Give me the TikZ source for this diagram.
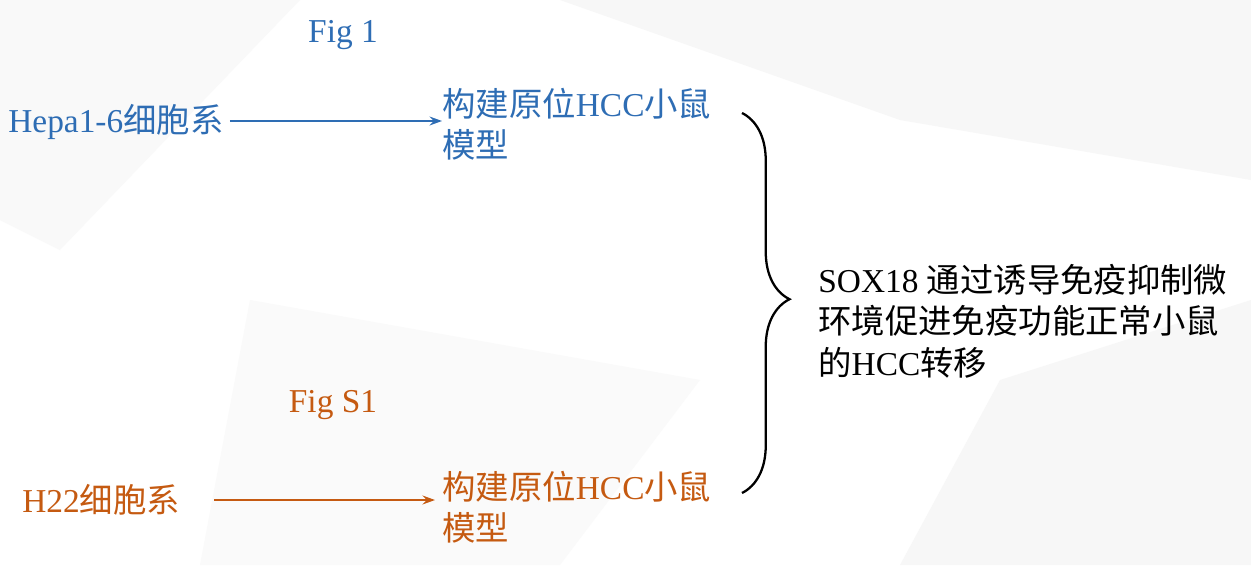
\documentclass[tikz,border=0pt]{standalone}
\usepackage{fontspec}
\setmainfont{Liberation Serif}
\newfontfamily\cjk{Noto Sans CJK SC}
\usetikzlibrary{decorations.pathreplacing,arrows.meta}
\definecolor{cblue}{HTML}{2E6DB4}
\definecolor{corange}{HTML}{C55A11}
\begin{document}
\begin{tikzpicture}[x=0.02cm,y=-0.02cm,
  lbl/.style={inner sep=0pt,anchor=west,font=\fontsize{19}{23.5}\selectfont},
  ml/.style={lbl,align=left,anchor=north west},
  arr/.style={-{Stealth[length=7pt,width=5pt]},line width=1.2pt}]
\fill[white] (0,0) rectangle (1251,565);
\fill[gray!5] (0,0) -- (300,0) -- (60,250) -- (0,220) -- cycle;
\fill[gray!6] (560,0) -- (1251,0) -- (1251,180) -- (900,120) -- cycle;
\fill[gray!4] (250,300) -- (700,380) -- (560,565) -- (200,565) -- cycle;
\fill[gray!6] (1000,380) -- (1251,300) -- (1251,565) -- (900,565) -- cycle;
\node[lbl,text=cblue,anchor=center] (f1) at (343,35) {Fig 1};
\node[lbl,text=cblue] (hepa) at (8,122) {Hepa1-6{\cjk 细胞系}};
\node[ml,text=cblue] (m1) at (442,88) {{\cjk 构建原位}HCC{\cjk 小鼠}\\{\cjk 模型}};
\node[lbl,text=corange,anchor=center] (fs1) at (333,405) {Fig S1};
\node[lbl,text=corange] (h22) at (22,500) {H22{\cjk 细胞系}};
\node[ml,text=corange] (m2) at (442,471) {{\cjk 构建原位}HCC{\cjk 小鼠}\\{\cjk 模型}};
\node[ml,text=black] (res) at (818,264) {SOX18 {\cjk 通过诱导免疫抑制微}\\{\cjk 环境促进免疫功能正常小鼠}\\{\cjk 的}HCC{\cjk 转移}};
\draw[arr,cblue] (hepa.east) ++(6,-1) coordinate (a1) -- (a1 -| m1.west);
\draw[arr,corange] (h22.east) ++(34,0) coordinate (a2) -- ([xshift=-4]a2 -| m2.west);
\coordinate (bt) at (742,113);
\coordinate (bb) at (742,493);
\draw[line width=1.3pt,decorate,decoration={brace,amplitude=0.95cm,aspect=0.49}] (bt) -- (bb);
\end{tikzpicture}
\end{document}
